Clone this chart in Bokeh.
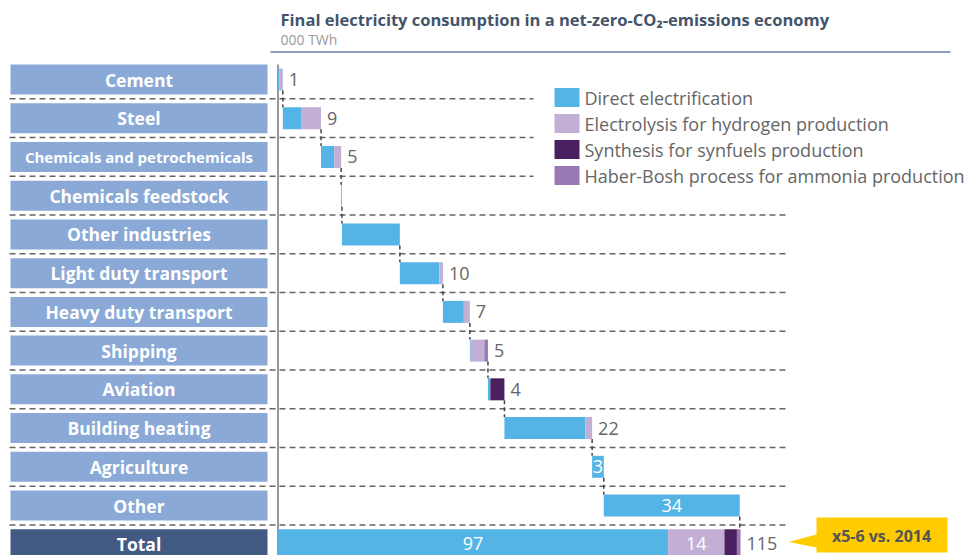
from bokeh.plotting import figure
from bokeh.models import Range1d
from bokeh.core.properties import value
from bokeh.embed import file_html
from bokeh.resources import INLINE

# ---------------- data ----------------
sectors = ["Cement", "Steel", "Chemicals and petrochemicals", "Chemicals feedstock",
           "Other industries", "Light duty transport", "Heavy duty transport", "Shipping",
           "Aviation", "Building heating", "Agriculture", "Other"]
direct = [0.3, 4.7, 3.3, 0.2, 14.4, 9.8, 5.2, 0.2, 0.6, 20.1, 2.9, 33.8]
electrolysis = [0.9, 4.8, 1.7, 0.0, 0.0, 0.9, 1.5, 3.4, 0.0, 1.7, 0.0, 0.0]
synthesis = [0.0, 0.0, 0.0, 0.0, 0.0, 0.0, 0.0, 0.0, 3.5, 0.0, 0.0, 0.0]
haber = [0.0, 0.0, 0.0, 0.0, 0.0, 0.0, 0.0, 0.9, 0.0, 0.0, 0.0, 0.0]
sector_value_labels = ["1", "9", "5", "", "", "10", "7", "5", "4", "22", "3", "34"]

total_name = "Total"
total_values = [97.0, 14.0, 3.1, 0.9]
total_segment_labels = ["97", "14", "", ""]
total_sum_label = "115"

series_names = ["Direct electrification", "Electrolysis for hydrogen production",
                "Synthesis for synfuels production", "Haber-Bosh process for ammonia production"]
title_text = "Final electricity consumption in a net-zero-CO\u2082-emissions economy"
subtitle_text = "000 TWh"
callout_text = "x5-6 vs. 2014"

# ---------------- layout / style ----------------
W, H = 970, 555
PX0 = 277.5      # page x of value 0
S = 4.022        # px per unit
ROW0 = 79.0      # page y of first row center
ROWH = 38.73     # row pitch

def px2x(px):
    return (px - PX0) / S

def py2y(py):
    return (py - ROW0) / ROWH

colors = ["#54b4e6", "#c3afd6", "#4a2060", "#9a78b4"]
box_color = "#8aa9d6"
total_box_color = "#435a85"
text_gray = "#666666"
FONT = value("Open Sans")
INSIDE = {"Agriculture", "Other"}

p = figure(width=W, height=H, x_range=Range1d(px2x(0), px2x(W)),
           y_range=Range1d(py2y(H), py2y(0)), output_backend="svg",
           toolbar_location=None, x_axis_location=None, y_axis_location=None,
           min_border=0, min_border_left=0, min_border_right=0,
           min_border_top=0, min_border_bottom=0, outline_line_color=None)
p.grid.visible = False

# title block
p.text(x=[px2x(280)], y=[py2y(19)], text=[title_text], text_font=FONT,
       text_font_style="bold", text_font_size="16.5px", text_color="#44546a",
       text_baseline="middle", text_align="left")
p.text(x=[px2x(280)], y=[py2y(39)], text=[subtitle_text], text_font=FONT,
       text_font_size="14px", text_color="#9a9a9a", text_baseline="middle", text_align="left")
p.segment(x0=[px2x(270)], x1=[px2x(950)], y0=[py2y(51.5)], y1=[py2y(51.5)],
          line_color="#8c9dc0", line_width=2)

n = len(sectors)
rows = list(range(n))
total_row = n

# row separators
sep_y = [i + 0.5 for i in rows]
sep_x1 = [px2x(533) if i < 3 else px2x(785) for i in rows]
p.segment(x0=[px2x(9)] * n, x1=sep_x1, y0=sep_y, y1=sep_y,
          line_color="#666666", line_width=1.5, line_dash="6 4")

# category label boxes
hb = 15 / ROWH
all_names = sectors + [total_name]
p.quad(left=[px2x(10)] * (n + 1), right=[px2x(267)] * (n + 1),
       top=[i - hb for i in range(n + 1)], bottom=[i + hb for i in range(n + 1)],
       fill_color=[box_color] * n + [total_box_color], line_color=None)
sizes = ["15px" if len(s) > 24 else "17.5px" for s in all_names]
p.text(x=[px2x(138.5)] * (n + 1), y=list(range(n + 1)), text=all_names, text_font=FONT,
       text_font_style="bold", text_font_size=sizes, text_color="white",
       text_align="center", text_baseline="middle")

# axis line
p.segment(x0=[0], x1=[0], y0=[py2y(64)], y1=[py2y(H + 1)], line_color="#777777", line_width=1.5)

# waterfall bars
series = [direct, electrolysis, synthesis, haber]
bh = 22 / ROWH
cum = 0.0
ends = []
for i in rows:
    left = cum
    for k, ser in enumerate(series):
        v = ser[i]
        if v > 0:
            p.hbar(y=[i], height=bh, left=[left], right=[left + v], fill_color=colors[k],
                   line_color=None)
            left += v
    ends.append((cum, left))
    cum = left

# connectors
for i in rows:
    x = ends[i][1]
    nxt_half = (30 / ROWH) / 2 if i == n - 1 else bh / 2
    p.segment(x0=[x], x1=[x], y0=[i + bh / 2], y1=[i + 1 - nxt_half],
              line_color="#444444", line_width=1.5, line_dash="4 3")

# sector value labels
for i in rows:
    lab = sector_value_labels[i]
    if not lab:
        continue
    s0, s1 = ends[i]
    if sectors[i] in INSIDE:
        p.text(x=[(s0 + s1) / 2], y=[i], text=[lab], text_font=FONT, text_font_size="18px",
               text_color="white", text_align="center", text_baseline="middle")
    else:
        p.text(x=[s1], y=[i], text=[lab], text_font=FONT, text_font_size="18px",
               text_color=text_gray, text_align="left", text_baseline="middle", x_offset=6)

# total bar
tbh = 30 / ROWH
left = 0.0
for k, v in enumerate(total_values):
    p.hbar(y=[total_row], height=tbh, left=[left], right=[left + v], fill_color=colors[k],
           line_color=None)
    if total_segment_labels[k]:
        p.text(x=[left + v / 2], y=[total_row - 0.03], text=[total_segment_labels[k]], text_font=FONT,
               text_font_size="18px", text_color="white", text_align="center",
               text_baseline="middle")
    left += v
p.text(x=[left], y=[total_row - 0.03], text=[total_sum_label], text_font=FONT, text_font_size="18px",
       text_color=text_gray, text_align="left", text_baseline="middle", x_offset=6)

# legend
leg_y = [97, 123, 149, 175]
for k, name in enumerate(series_names):
    p.quad(left=[px2x(554)], right=[px2x(579)], top=[py2y(leg_y[k] - 9.5)],
           bottom=[py2y(leg_y[k] + 9.5)], fill_color=colors[k], line_color=None)
    p.text(x=[px2x(584)], y=[py2y(leg_y[k])], text=[name], text_font=FONT,
           text_font_size="18px", text_color=text_gray, text_align="left",
           text_baseline="middle")

# callout
cx = [px2x(v) for v in [816, 947, 947, 816, 816, 788, 816]]
cy = [py2y(v) for v in [517, 517, 552, 552, 547, 541.5, 534]]
p.patch(x=cx, y=cy, fill_color="#ffcc00", line_color=None)
p.text(x=[px2x(881)], y=[py2y(535)], text=[callout_text], text_font=FONT,
       text_font_style="bold", text_font_size="16px", text_color="#555555",
       text_align="center", text_baseline="middle")

open("out.html", "w").write(file_html(p, INLINE))
